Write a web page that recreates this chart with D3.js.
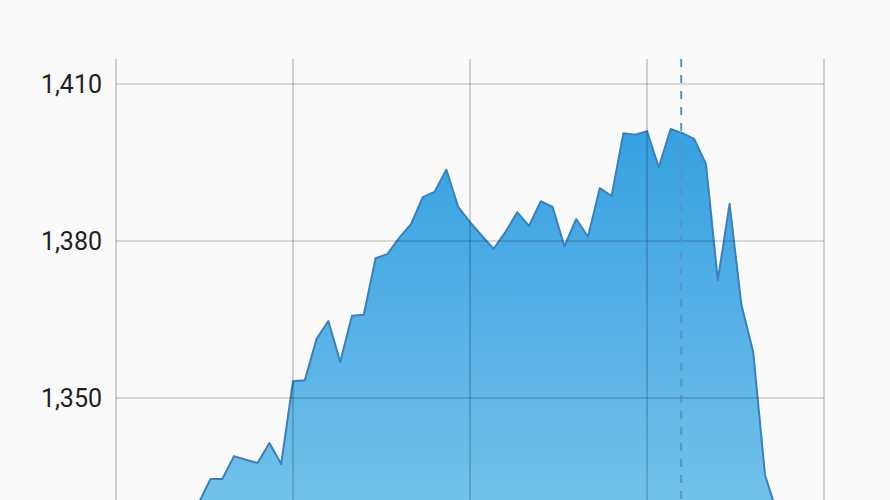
<!DOCTYPE html>
<html>
<head>
<meta charset="utf-8">
<script src="https://cdn.jsdelivr.net/npm/d3@7"></script>
<style>
  html, body { margin: 0; padding: 0; background: #fafafa; overflow: hidden; }
  svg { display: block; }
  .tick text { font-family: Roboto, "Noto Sans", sans-serif; }
</style>
</head>
<body>
<script>
// series values, one per step (first and last few sit below the visible window)
const values = [
  1318, 1321, 1319, 1323, 1322, 1326, 1324, 1329.9,
  1334.5, 1334.5, 1338.9, 1338.2, 1337.6, 1341.4, 1337.4,
  1353.2, 1353.4, 1361.3, 1364.7, 1356.9, 1365.7, 1365.9,
  1376.7, 1377.5, 1380.6, 1383.2, 1388.4, 1389.4, 1393.6,
  1386.5, 1383.6, 1381.0, 1378.5, 1381.7, 1385.5, 1382.9,
  1387.6, 1386.5, 1379.0, 1384.2, 1380.8, 1390.1, 1388.6,
  1400.6, 1400.3, 1401.0, 1394.1, 1401.4, 1400.6, 1399.5,
  1394.7, 1372.5, 1387.1, 1367.8, 1358.8, 1335.3, 1328.2,
  1325, 1322, 1324, 1320
];
const xTicks = [0, 15, 30, 45, 60];
const yTicks = [1350, 1380, 1410];
const crosshairIndex = 48;

const width = 890, height = 500;
const plotLeft = 116, plotRight = 824, plotTop = 59;

const svg = d3.select("body").append("svg")
  .attr("width", width).attr("height", height);

const x = d3.scaleLinear().domain([0, 60]).range([plotLeft, plotRight]);
const y = d3.scaleLinear().domain([1350, 1410]).range([398, 84]);
const yBottom = y(1318);

// gradient for the area fill
const grad = svg.append("defs").append("linearGradient")
  .attr("id", "fill")
  .attr("gradientUnits", "userSpaceOnUse")
  .attr("x1", 0).attr("x2", 0)
  .attr("y1", y(1402)).attr("y2", 500);
grad.append("stop").attr("offset", "0%").attr("stop-color", "#36a0e1");
grad.append("stop").attr("offset", "100%").attr("stop-color", "#72c1ea");

const area = d3.area()
  .x((d, i) => x(i))
  .y0(yBottom)
  .y1(d => y(d));

const line = d3.line()
  .x((d, i) => x(i))
  .y(d => y(d));

svg.append("path")
  .datum(values)
  .attr("d", area)
  .attr("fill", "url(#fill)");

svg.append("path")
  .datum(values)
  .attr("d", line)
  .attr("fill", "none")
  .attr("stroke", "#3b7fbf")
  .attr("stroke-width", 2)
  .attr("stroke-linejoin", "round");

// grid on top of the area
const grid = svg.append("g");
grid.selectAll("line.h")
  .data(yTicks)
  .enter().append("line")
  .attr("class", "h")
  .attr("x1", plotLeft).attr("x2", plotRight)
  .attr("y1", d => y(d)).attr("y2", d => y(d))
  .attr("stroke", "rgba(0,0,0,0.28)")
  .attr("stroke-width", 1.2);

grid.selectAll("line.v")
  .data(xTicks)
  .enter().append("line")
  .attr("class", "v")
  .attr("x1", d => x(d)).attr("x2", d => x(d))
  .attr("y1", plotTop).attr("y2", height + 20)
  .attr("stroke", "rgba(0,0,0,0.28)")
  .attr("stroke-width", 1.2);

// y axis labels
const yAxis = d3.axisLeft(y)
  .tickValues(yTicks)
  .tickFormat(d3.format(","))
  .tickSize(0)
  .tickPadding(14);

svg.append("g")
  .attr("transform", `translate(${plotLeft},0)`)
  .call(yAxis)
  .call(g => g.select(".domain").remove())
  .call(g => g.selectAll("text")
    .attr("font-size", 25)
    .attr("fill", "#1f1f1f"));

// dashed crosshair
svg.append("line")
  .attr("x1", x(crosshairIndex) - 1.2).attr("x2", x(crosshairIndex) - 1.2)
  .attr("y1", plotTop).attr("y2", height + 20)
  .attr("stroke", "#5a93c6")
  .attr("stroke-width", 2)
  .attr("stroke-dasharray", "8,8");
</script>
</body>
</html>
